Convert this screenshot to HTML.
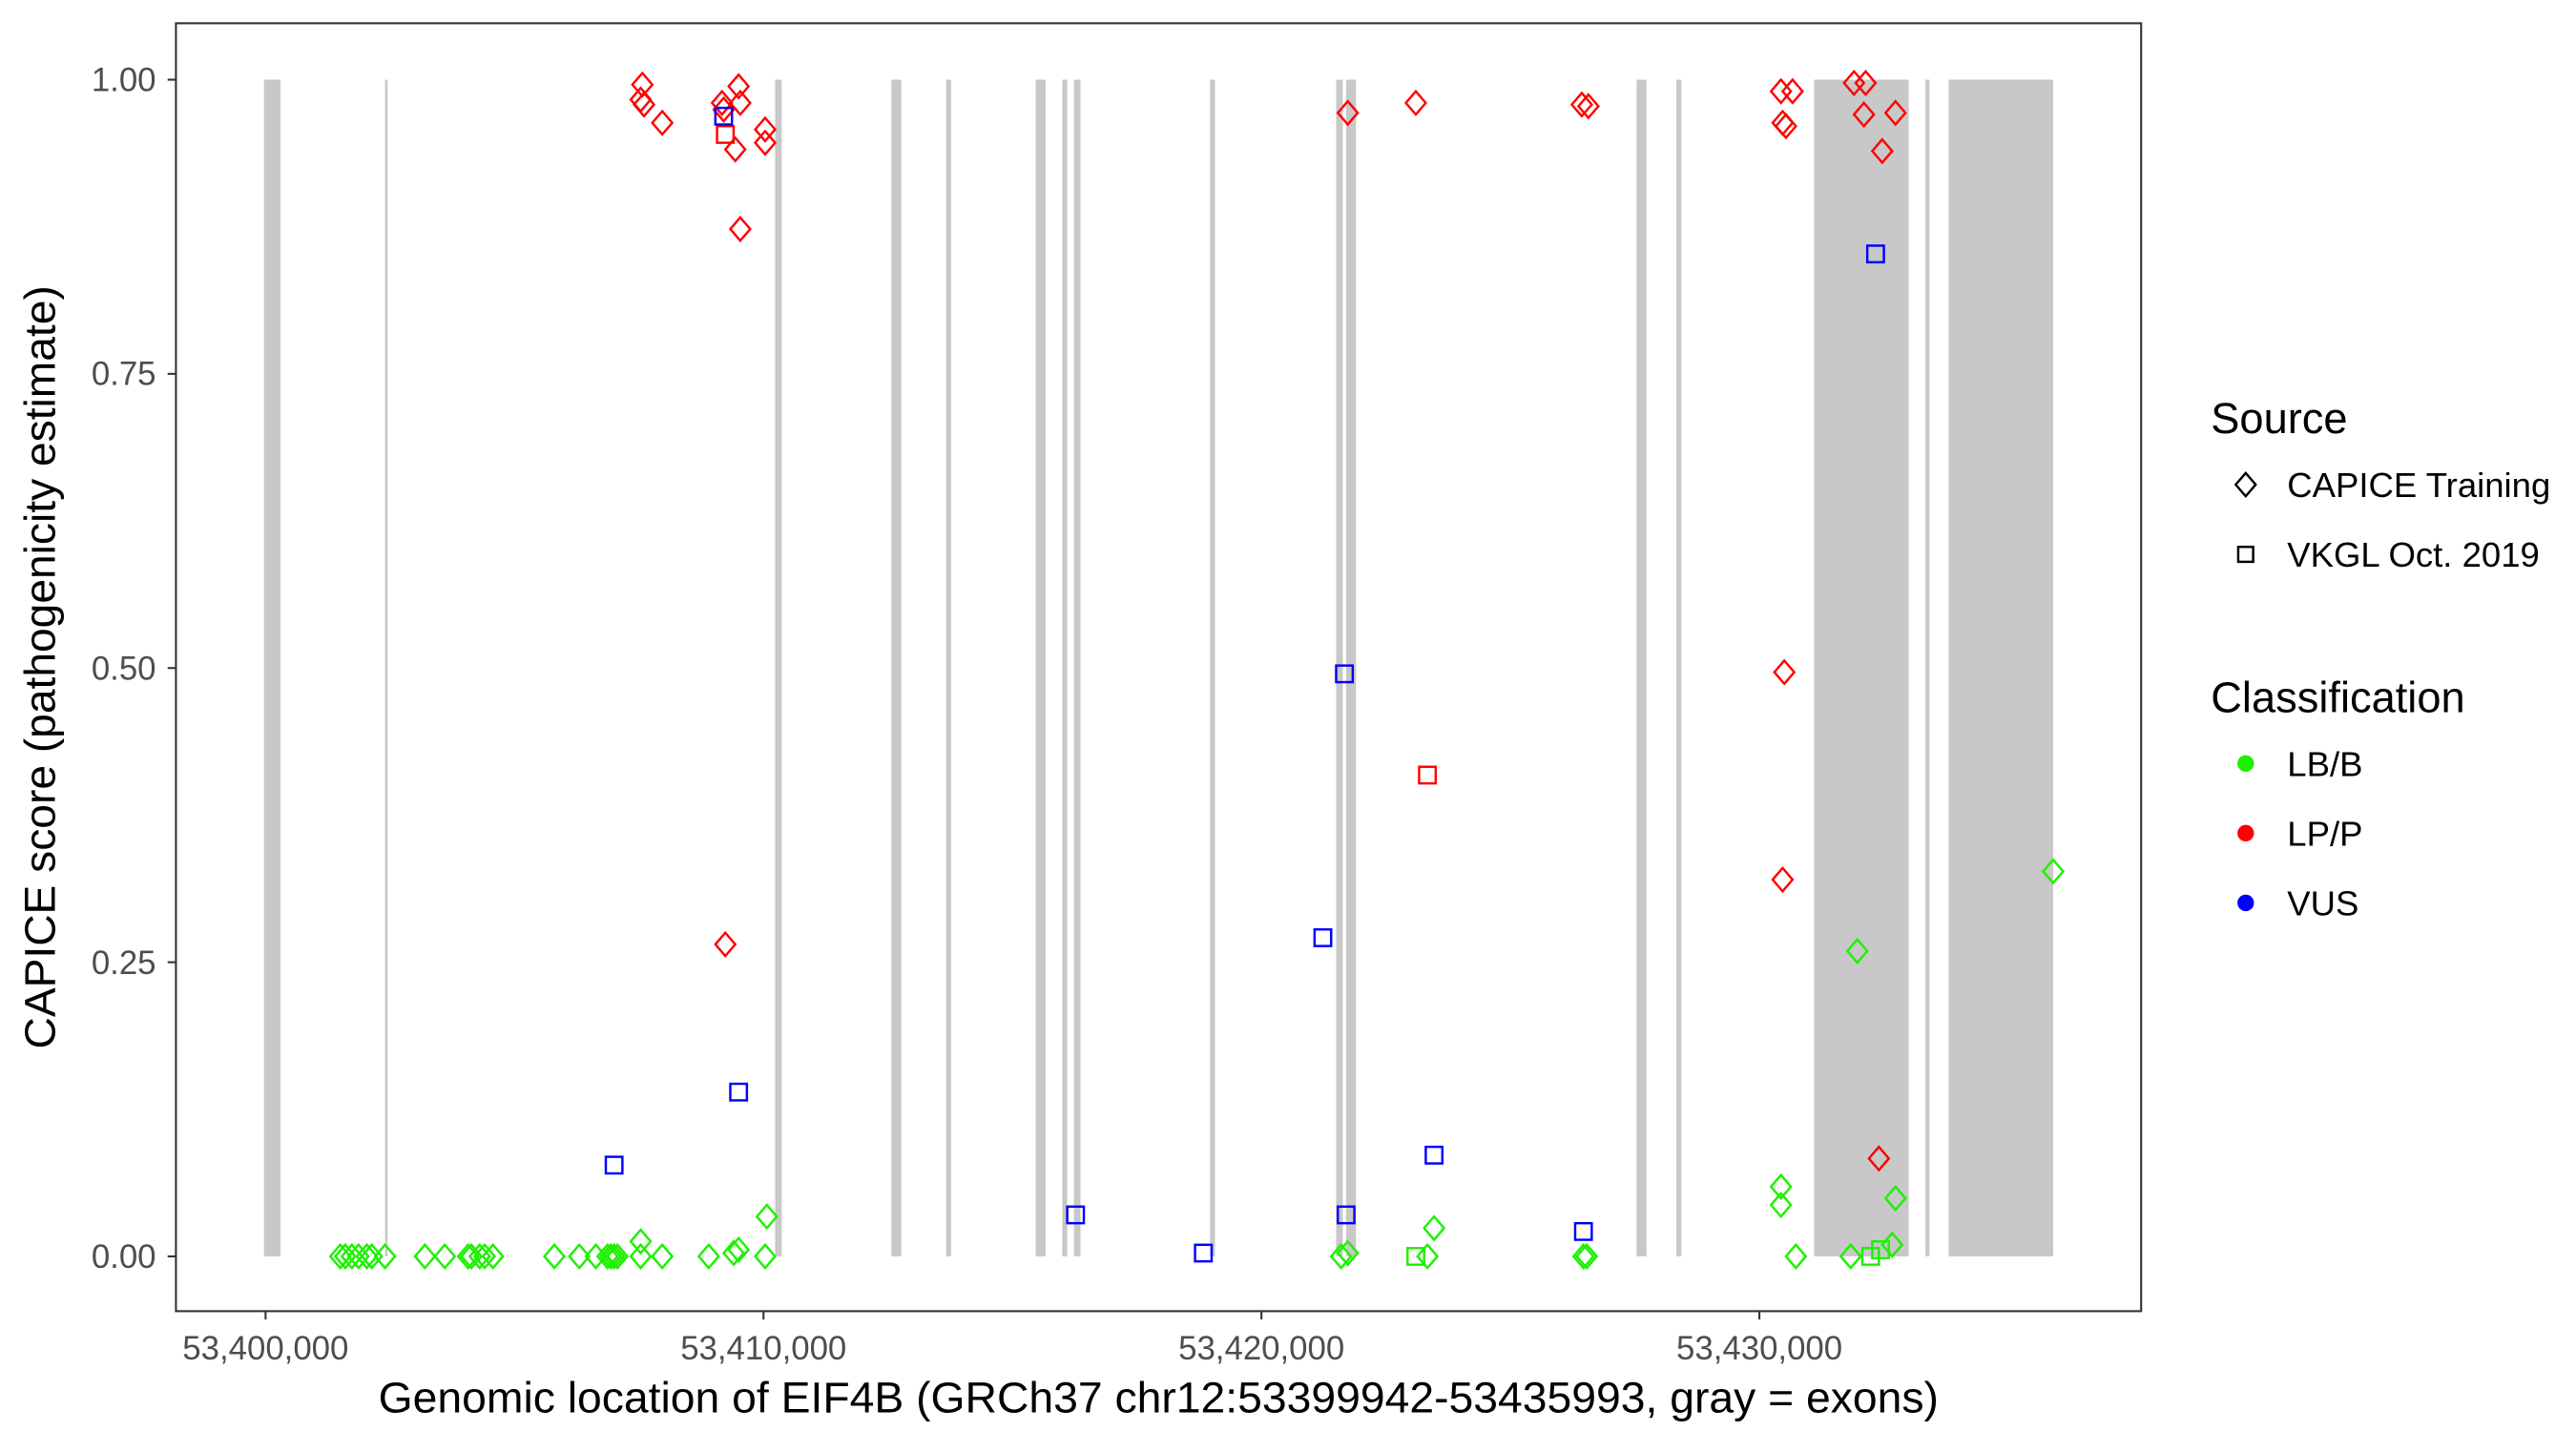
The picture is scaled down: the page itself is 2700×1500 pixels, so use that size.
<!DOCTYPE html>
<html><head><meta charset="utf-8"><style>
html,body{margin:0;padding:0;background:#fff;}
svg{display:block;}
text{font-family:"Liberation Sans",Arial,sans-serif;}
</style></head><body>
<svg width="2700" height="1500" viewBox="0 0 1552 862.2" xmlns="http://www.w3.org/2000/svg">
<defs>
<path id="d" d="M0,-7 L6,0 L0,7 L-6,0 Z" fill="none" stroke-width="1.4"/>
<rect id="s" x="-5" y="-5" width="10" height="10" fill="none" stroke-width="1.4"/>
</defs>
<rect x="0" y="0" width="1552" height="862.2" fill="#fff"/>
<g fill="#c8c8c8">
<rect x="159" y="48" width="10" height="709"/>
<rect x="232" y="48" width="1.5" height="709"/>
<rect x="467" y="48" width="4" height="709"/>
<rect x="537" y="48" width="6" height="709"/>
<rect x="570" y="48" width="3" height="709"/>
<rect x="624" y="48" width="6" height="709"/>
<rect x="640" y="48" width="3" height="709"/>
<rect x="647" y="48" width="4" height="709"/>
<rect x="729" y="48" width="3" height="709"/>
<rect x="805" y="48" width="4" height="709"/>
<rect x="811" y="48" width="6" height="709"/>
<rect x="986" y="48" width="6" height="709"/>
<rect x="1010" y="48" width="3" height="709"/>
<rect x="1093" y="48" width="57" height="709"/>
<rect x="1160" y="48" width="2.5" height="709"/>
<rect x="1174" y="48" width="63" height="709"/>
</g>
<g stroke="#1ef000">
<use href="#d" x="205" y="757"/><use href="#d" x="208" y="757"/><use href="#d" x="212" y="757"/><use href="#d" x="216" y="757"/><use href="#d" x="221" y="757"/><use href="#d" x="224" y="757"/><use href="#d" x="232" y="757"/><use href="#d" x="256" y="757"/><use href="#d" x="268" y="757"/><use href="#d" x="282" y="757"/><use href="#d" x="284" y="757"/><use href="#d" x="289" y="757"/><use href="#d" x="292" y="757"/><use href="#d" x="297" y="757"/><use href="#d" x="334" y="757"/><use href="#d" x="349" y="757"/><use href="#d" x="359" y="757"/><use href="#d" x="366" y="757"/><use href="#d" x="368" y="757"/><use href="#d" x="370" y="757"/><use href="#d" x="372" y="757"/><use href="#d" x="386" y="757"/><use href="#d" x="386" y="748"/><use href="#d" x="399" y="757"/><use href="#d" x="427" y="757"/><use href="#d" x="442" y="755"/><use href="#d" x="445" y="753"/><use href="#d" x="461" y="757"/><use href="#d" x="462" y="733"/>
<use href="#d" x="808" y="757"/><use href="#d" x="812" y="755"/><use href="#d" x="860" y="757"/><use href="#d" x="864" y="740"/><use href="#d" x="954" y="757"/><use href="#d" x="956" y="757"/>
<use href="#d" x="1073" y="715"/><use href="#d" x="1073" y="726"/><use href="#d" x="1082" y="757"/><use href="#d" x="1115" y="757"/><use href="#d" x="1119" y="573"/><use href="#d" x="1142" y="722"/><use href="#d" x="1140" y="750"/><use href="#d" x="1237" y="525"/>
<use href="#s" x="853" y="757"/><use href="#s" x="1127" y="757"/><use href="#s" x="1133" y="753"/>
</g>
<g stroke="#ff0000">
<use href="#d" x="387" y="51"/><use href="#d" x="386" y="60"/><use href="#d" x="388" y="63"/><use href="#d" x="399" y="74"/><use href="#d" x="435" y="62"/><use href="#d" x="436" y="66"/><use href="#d" x="445" y="52"/><use href="#d" x="446" y="62"/><use href="#d" x="461" y="78"/><use href="#d" x="461" y="86"/><use href="#d" x="443" y="90"/><use href="#d" x="446" y="138"/><use href="#d" x="437" y="569"/>
<use href="#d" x="812" y="68"/><use href="#d" x="853" y="62"/><use href="#d" x="953" y="63"/><use href="#d" x="957" y="64"/>
<use href="#d" x="1073" y="55"/><use href="#d" x="1080" y="55"/><use href="#d" x="1074" y="74"/><use href="#d" x="1076" y="76"/><use href="#d" x="1117" y="50"/><use href="#d" x="1124" y="50"/><use href="#d" x="1123" y="69"/><use href="#d" x="1142" y="68"/><use href="#d" x="1134" y="91"/><use href="#d" x="1075" y="405"/><use href="#d" x="1074" y="530"/><use href="#d" x="1132" y="698"/>
<use href="#s" x="437" y="81"/><use href="#s" x="860" y="467"/>
</g>
<g stroke="#0000ff">
<use href="#s" x="436" y="70"/><use href="#s" x="1130" y="153"/><use href="#s" x="810" y="406"/><use href="#s" x="797" y="565"/><use href="#s" x="445" y="658"/><use href="#s" x="370" y="702"/><use href="#s" x="648" y="732"/><use href="#s" x="725" y="755"/><use href="#s" x="811" y="732"/><use href="#s" x="864" y="696"/><use href="#s" x="954" y="742"/>
</g>
<rect x="106" y="14" width="1184" height="776" fill="none" stroke="#333" stroke-width="1.2"/>
<g stroke="#333" stroke-width="1.2">
<line x1="101" y1="48" x2="106" y2="48"/><line x1="101" y1="225.25" x2="106" y2="225.25"/><line x1="101" y1="402.5" x2="106" y2="402.5"/><line x1="101" y1="579.75" x2="106" y2="579.75"/><line x1="101" y1="757" x2="106" y2="757"/>
<line x1="160" y1="790" x2="160" y2="795"/><line x1="460" y1="790" x2="460" y2="795"/><line x1="760" y1="790" x2="760" y2="795"/><line x1="1060" y1="790" x2="1060" y2="795"/>
</g>
<g font-size="20" fill="#4d4d4d" text-anchor="end">
<text x="94" y="55">1.00</text><text x="94" y="232">0.75</text><text x="94" y="409.5">0.50</text><text x="94" y="587">0.25</text><text x="94" y="764">0.00</text>
</g>
<g font-size="20" fill="#4d4d4d" text-anchor="middle">
<text x="160" y="819">53,400,000</text><text x="460" y="819">53,410,000</text><text x="760" y="819">53,420,000</text><text x="1060" y="819">53,430,000</text>
</g>
<text x="228" y="851" font-size="26" textLength="940" lengthAdjust="spacingAndGlyphs" fill="#000">Genomic location of EIF4B (GRCh37 chr12:53399942-53435993, gray = exons)</text>
<text transform="translate(33,632) rotate(-90)" font-size="26" textLength="460" lengthAdjust="spacingAndGlyphs" fill="#000">CAPICE score (pathogenicity estimate)</text>
<text x="1332" y="261" font-size="26">Source</text>
<use href="#d" x="1353" y="292" stroke="#000"/>
<text x="1378" y="299.5" font-size="21">CAPICE Training</text>
<rect x="1348.5" y="329.5" width="9" height="9" fill="none" stroke="#000" stroke-width="1.4"/>
<text x="1378" y="341.5" font-size="21">VKGL Oct. 2019</text>
<text x="1332" y="429" font-size="26">Classification</text>
<circle cx="1353" cy="460" r="5" fill="#1ef000"/><text x="1378" y="467.5" font-size="21">LB/B</text>
<circle cx="1353" cy="502" r="5" fill="#ff0000"/><text x="1378" y="509.5" font-size="21">LP/P</text>
<circle cx="1353" cy="544" r="5" fill="#0000ff"/><text x="1378" y="551.5" font-size="21">VUS</text>
</svg>
</body></html>
